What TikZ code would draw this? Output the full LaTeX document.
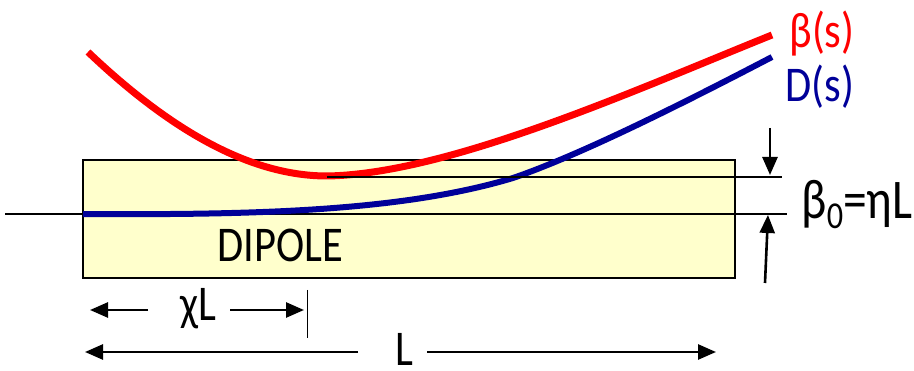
\documentclass[tikz,border=0pt]{standalone}
\usepackage{fontspec}
\setmainfont[FakeStretch=0.85]{Carlito}
\usetikzlibrary{arrows.meta}
\definecolor{betared}{RGB}{255,0,0}
\definecolor{dispblue}{RGB}{0,0,153}
\definecolor{dipolefill}{RGB}{255,255,204}
\tikzset{
  lbl/.style={inner sep=0pt, anchor=base, font=\fontsize{50}{60}\selectfont},
  dimarrow/.style={line width=2.6pt, -{Triangle[length=18pt,width=15pt]}},
  guide/.style={line width=2.4pt},
}

\begin{document}
\begin{tikzpicture}[x=1pt, y=-1pt]
  \useasboundingbox (0,0) rectangle (914,371);
  % dipole
  \draw[line width=2.4pt, fill=dipolefill] (83,160) rectangle (735,278);
  \node[lbl] (dipole) at (280,262) {DIPOLE};
  \draw[guide] (5,214) -- (787,214);
  % D(s) and beta(s)
  \draw[dispblue, line width=6pt] (83,214) .. controls (250,215) and (400,212) .. (513,178)
    .. controls (580,155) and (680,105) .. (772,57);
  \draw[betared, line width=7pt] (88,52) .. controls (170,130) and (250,176) .. (327,176)
    .. controls (450,174) and (640,88) .. (772,35);
  \draw[guide] (327,177) -- (782,177);
  \node[lbl, text=betared] (beta) at (822,48) {β(s)};
  \node[lbl, text=dispblue] (disp) at (820,102) {D(s)};
  % beta_0
  \coordinate (downS) at (770,128); \coordinate (downT) at (770,175);
  \coordinate (upS) at (765,283); \coordinate (upT) at (768,215);
  \draw[dimarrow] (downS) -- (downT);
  \draw[dimarrow] (upS) -- (upT);
  \node[lbl, font=\fontsize{56}{60}\selectfont] (beta0) at (857,219) {β\raisebox{-10pt}{\fontsize{38}{40}\selectfont 0}=ηL};
  % chi L
  \node[lbl] (chiL) at (198,321) {χL};
  \coordinate (chiA) at (148,310); \coordinate (chiAtip) at (90,310);
  \coordinate (chiB) at (230,310); \coordinate (chiBtip) at (304,310);
  \draw[dimarrow] (chiA) -- (chiAtip);
  \draw[dimarrow] (chiB) -- (chiBtip);
  \coordinate (tickT) at (307,290); \coordinate (tickB) at (307,338);
  \draw[line width=1pt] (tickT) -- (tickB);
  % L
  \node[lbl] (len) at (404,366) {L};
  \coordinate (lenA) at (358,352); \coordinate (lenAtip) at (85,352);
  \coordinate (lenB) at (427,352); \coordinate (lenBtip) at (716,352);
  \draw[dimarrow] (lenA) -- (lenAtip);
  \draw[dimarrow] (lenB) -- (lenBtip);
\end{tikzpicture}
\end{document}
